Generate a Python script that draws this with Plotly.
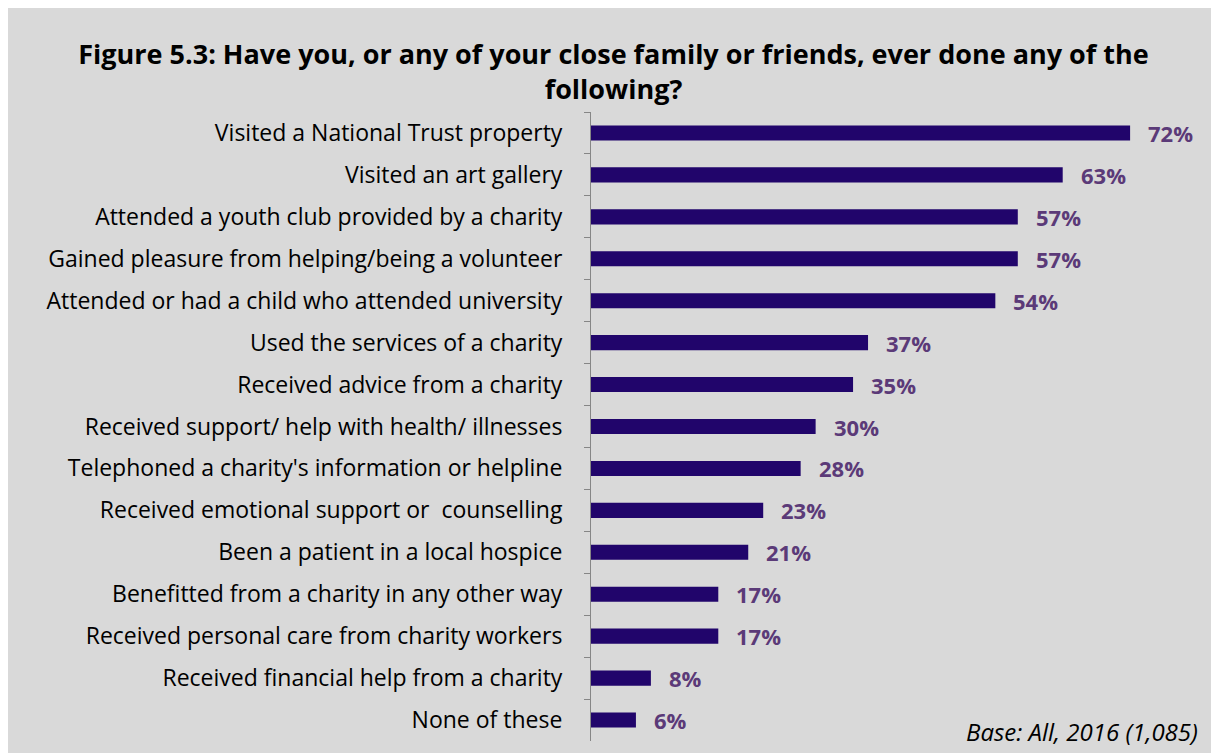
import plotly.graph_objects as go

categories = [
    "Visited a National Trust property",
    "Visited an art gallery",
    "Attended a youth club provided by a charity",
    "Gained pleasure from helping/being a volunteer",
    "Attended or had a child who attended university",
    "Used the services of a charity",
    "Received advice from a charity",
    "Received support/ help with health/ illnesses",
    "Telephoned a charity's information or helpline",
    "Received emotional support or  counselling",
    "Been a patient in a local hospice",
    "Benefitted from a charity in any other way",
    "Received personal care from charity workers",
    "Received financial help from a charity",
    "None of these",
]
values = [72, 63, 57, 57, 54, 37, 35, 30, 28, 23, 21, 17, 17, 8, 6]
value_labels = [f"{v}%" for v in values]

BAR = "#21056b"
LAB = "#5b3a78"
FONT = "Open Sans"

fig = go.Figure()
fig.add_trace(go.Bar(
    x=values, y=categories, orientation="h",
    marker=dict(color=BAR, line=dict(width=0)),
    width=0.36, hoverinfo="skip",
))

for c, v, t in zip(categories, values, value_labels):
    fig.add_annotation(x=v, y=c, text=f"<b>{t}</b>", showarrow=False,
                       xanchor="left", yanchor="middle", xshift=16,
                       font=dict(family=FONT, size=22, color=LAB))

fig.add_annotation(xref="paper", yref="paper", x=1 + 10/598, y=10/629,
                   xanchor="right", yanchor="middle", showarrow=False,
                   text="<i>Base: All, 2016 (1,085)</i>",
                   font=dict(family=FONT, size=24, color="#000000"))

fig.update_layout(
    width=1211, height=745,
    margin=dict(l=583, r=29, t=104, b=12),
    paper_bgcolor="#d9d9d9", plot_bgcolor="#d9d9d9",
    showlegend=False,
    title=dict(
        text="<b>Figure 5.3: Have you, or any of your close family or friends, ever done any of the<br>following?</b>",
        x=0.5, xanchor="center", y=1 - 56/745, yanchor="top",
        font=dict(family=FONT, size=27, color="#000000"),
    ),
    xaxis=dict(range=[0, 80], visible=False, fixedrange=True),
    yaxis=dict(
        autorange="reversed", type="category",
        showline=True, linecolor="#868686", linewidth=1,
        ticks="outside", tickson="boundaries", ticklen=6, tickcolor="#868686",
        ticklabelstandoff=23,
        tickfont=dict(family=FONT, size=23, color="#000000"),
        showgrid=False, zeroline=False,
    ),
    bargap=0.64,
)

fig.write_html("out.html")
